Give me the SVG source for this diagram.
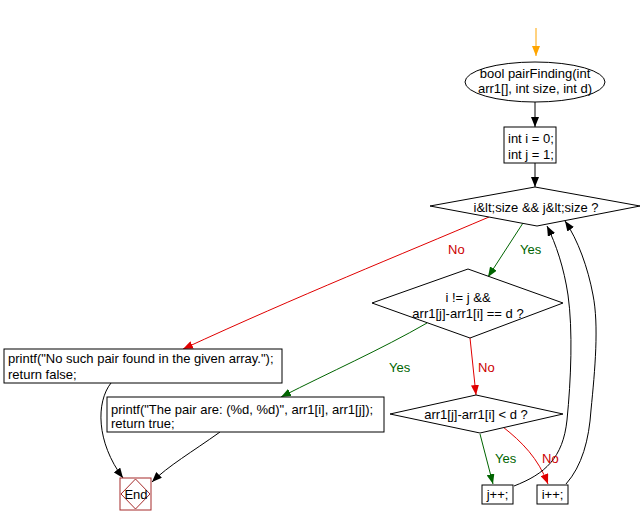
<svg xmlns="http://www.w3.org/2000/svg" width="642" height="526" viewBox="0 0 642 526">
<style>
text{font-family:"Liberation Sans",Arial,sans-serif;font-size:13px;fill:#000}
.n{fill:#fff;stroke:#000;stroke-width:1}
.c{fill:none;stroke:#000;stroke-width:1}
.g{fill:none;stroke:#006400;stroke-width:1}
.r{fill:none;stroke:#e00000;stroke-width:1}
.o{fill:none;stroke:#ffa500;stroke-width:1}
.ty{fill:#006400}
.tn{fill:#cc0000}
.m{text-anchor:middle}
</style>
<defs>
<marker id="ak" markerUnits="userSpaceOnUse" markerWidth="10" markerHeight="8" refX="10" refY="4" orient="auto"><path d="M0,0L10,4L0,8z" fill="#000"/></marker>
<marker id="ag" markerUnits="userSpaceOnUse" markerWidth="10" markerHeight="8" refX="10" refY="4" orient="auto"><path d="M0,0L10,4L0,8z" fill="#006400"/></marker>
<marker id="ar" markerUnits="userSpaceOnUse" markerWidth="10" markerHeight="8" refX="10" refY="4" orient="auto"><path d="M0,0L10,4L0,8z" fill="#e00000"/></marker>
<marker id="ao" markerUnits="userSpaceOnUse" markerWidth="10" markerHeight="8" refX="10" refY="4" orient="auto"><path d="M0,0L10,4L0,8z" fill="#ffa500"/></marker>
</defs>
<g id="connectors">
<path class="o" d="M536,28L536,56" marker-end="url(#ao)"/>
<path class="c" d="M535,102L535,127" marker-end="url(#ak)"/>
<path class="c" d="M535,163L535,187" marker-end="url(#ak)"/>
<path class="g" d="M523,223L488,277" marker-end="url(#ag)"/>
<path class="r" d="M489,217C400,255 300,295 183,349" marker-end="url(#ar)"/>
<path class="g" d="M427,323C380,350 330,372 281,397" marker-end="url(#ag)"/>
<path class="r" d="M470,338L476,395" marker-end="url(#ar)"/>
<path class="g" d="M480,434L493,484" marker-end="url(#ag)"/>
<path class="r" d="M503,427C522,442 538,458 548,484" marker-end="url(#ar)"/>
<path class="c" d="M514,486C545,474 563,458 567,420C571,380 573,330 568,295C564,268 556,244 547,226" marker-end="url(#ak)"/>
<path class="c" d="M566,484C582,466 589,440 591,410C595,370 599,325 593,295C588,268 578,240 565,221" marker-end="url(#ak)"/>
<path class="c" d="M111,383C96,402 96,442 123,478" marker-end="url(#ak)"/>
<path class="c" d="M220,432C192,452 168,466 152,482" marker-end="url(#ak)"/>
<text class="tn" x="448" y="254">No</text>
<text class="ty" x="520" y="254">Yes</text>
<text class="ty" x="389" y="372">Yes</text>
<text class="tn" x="478" y="372">No</text>
<text class="ty" x="495" y="463">Yes</text>
<text class="tn" x="542" y="463">No</text>
</g>
<g id="start">
<ellipse class="n" cx="535" cy="82" rx="70" ry="20"/>
<text class="m" x="535" y="78">bool pairFinding(int</text>
<text class="m" x="535" y="93">arr1[], int size, int d)</text>
</g>
<g id="init">
<rect class="n" x="504" y="127" width="52" height="36"/>
<text x="508" y="143">int i = 0;</text>
<text x="508" y="159">int j = 1;</text>
</g>
<g id="cond1">
<polygon class="n" points="535,187 640,206 537,226 430,206"/>
<text class="m" x="536" y="212">i&amp;lt;size &amp;&amp; j&amp;lt;size ?</text>
</g>
<g id="cond2">
<polygon class="n" points="468,269 563,303 470,338 372,303"/>
<text class="m" x="468" y="302">i != j &amp;&amp;</text>
<text class="m" x="468" y="318">arr1[j]-arr1[i] == d ?</text>
</g>
<g id="cond3">
<polygon class="n" points="476,395 563,414 480,433 390,414"/>
<text class="m" x="476" y="419">arr1[j]-arr1[i] &lt; d ?</text>
</g>
<g id="nopair">
<rect class="n" x="4" y="349" width="278" height="34"/>
<text x="8" y="363">printf("No such pair found in the given array.");</text>
<text x="8" y="379">return false;</text>
</g>
<g id="pair">
<rect class="n" x="107" y="397" width="277" height="35"/>
<text x="111" y="414">printf("The pair are: (%d, %d)", arr1[i], arr1[j]);</text>
<text x="111" y="428">return true;</text>
</g>
<g id="jinc">
<rect class="n" x="482" y="485" width="31" height="19"/>
<text class="m" x="497.5" y="499">j++;</text>
</g>
<g id="iinc">
<rect class="n" x="537" y="485" width="31" height="19"/>
<text class="m" x="552.5" y="499">i++;</text>
</g>
<g id="end">
<rect x="120" y="478" width="31" height="32" fill="#fff" stroke="#a52a2a"/>
<polygon points="135.5,479 150,494 135.5,509 121,494" fill="none" stroke="#a52a2a"/>
<text class="m" x="136" y="499">End</text>
</g>
</svg>
